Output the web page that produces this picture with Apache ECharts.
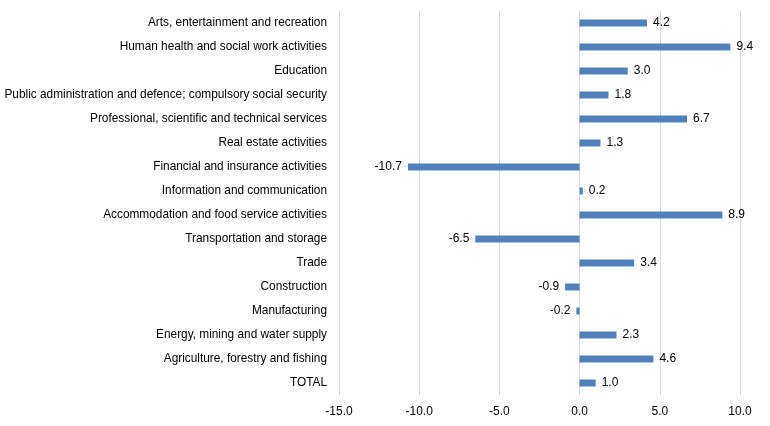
<!DOCTYPE html>
<html><head><meta charset="utf-8">
<script src="https://cdn.jsdelivr.net/npm/echarts@6/dist/echarts.min.js"></script>
<style>html,body{margin:0;padding:0;background:#fff}#c{width:770px;height:426px}</style>
</head><body><div id="c"></div>
<script>
const categories = [
  "TOTAL",
  "Agriculture, forestry and fishing",
  "Energy, mining and water supply",
  "Manufacturing",
  "Construction",
  "Trade",
  "Transportation and storage",
  "Accommodation and food service activities",
  "Information and communication",
  "Financial and insurance activities",
  "Real estate activities",
  "Professional, scientific and technical services",
  "Public administration and defence; compulsory social security",
  "Education",
  "Human health and social work activities",
  "Arts, entertainment and recreation"
];
const values = [1.0, 4.6, 2.3, -0.2, -0.9, 3.4, -6.5, 8.9, 0.2, -10.7, 1.3, 6.7, 1.8, 3.0, 9.4, 4.2];
const xTicks = { min: -15, max: 10, interval: 5 };

const font = "Liberation Sans, Arial, sans-serif";
const chart = echarts.init(document.getElementById('c'));
chart.setOption({
  animation: false,
  grid: { left: 339, right: 30, top: 11, bottom: 31, containLabel: false, outerBoundsMode: 'none' },
  xAxis: {
    type: 'value', min: xTicks.min, max: xTicks.max, interval: xTicks.interval,
    axisLine: { show: false }, axisTick: { show: false },
    splitLine: { lineStyle: { color: '#d9d9d9', width: 1 } },
    axisLabel: { color: '#000', fontFamily: font, fontSize: 12, margin: 11,
      formatter: v => v.toFixed(1) }
  },
  yAxis: {
    type: 'category', data: categories,
    axisLine: { show: false }, axisTick: { show: false },
    axisLabel: { color: '#000', fontFamily: font, fontSize: 11.85, margin: 12 }
  },
  series: [{
    type: 'bar', barWidth: 7,
    itemStyle: { color: '#4f81bd' },
    data: values.map(v => ({
      value: v,
      label: { show: true, position: v < 0 ? 'left' : 'right', distance: 6,
        color: '#000', fontFamily: font, fontSize: 12,
        formatter: p => p.value.toFixed(1) }
    }))
  }]
});
</script></body></html>
